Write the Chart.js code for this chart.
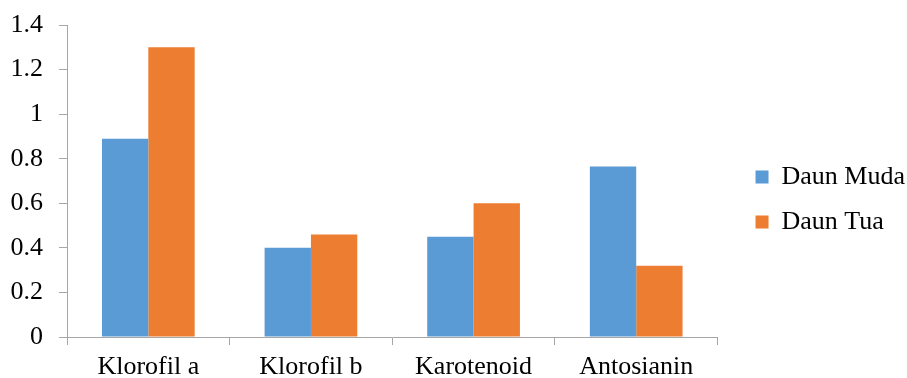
<!DOCTYPE html>
<html>
<head>
<meta charset="utf-8">
<script src="https://cdn.jsdelivr.net/npm/chart.js@4/dist/chart.umd.min.js"></script>
<style>
  html, body { margin: 0; padding: 0; background: #ffffff; }
  #wrap { width: 907px; height: 378px; position: relative; }
</style>
</head>
<body>
<div id="wrap"><canvas id="chart"></canvas></div>
<script>
// Pigment content of young vs old leaves
const categories = ['Klorofil a', 'Klorofil b', 'Karotenoid', 'Antosianin'];
const daunMuda = [0.89, 0.40, 0.45, 0.765];
const daunTua = [1.30, 0.46, 0.60, 0.32];
const yTickLabels = ['0', '0.2', '0.4', '0.6', '0.8', '1', '1.2', '1.4'];

const serif = "'Liberation Serif', 'Times New Roman', serif";
const axisGray = '#a6a6a6';

new Chart(document.getElementById('chart'), {
  type: 'bar',
  data: {
    labels: categories,
    datasets: [
      { label: 'Daun Muda', data: daunMuda, backgroundColor: '#5b9bd5', borderWidth: 0 },
      { label: 'Daun Tua', data: daunTua, backgroundColor: '#ed7d31', borderWidth: 0 }
    ]
  },
  options: {
    responsive: true,
    maintainAspectRatio: false,
    animation: false,
    datasets: { bar: { categoryPercentage: 0.57, barPercentage: 1.0 } },
    layout: { padding: { top: 25, left: 11, right: -8, bottom: 4 } },
    plugins: {
      legend: {
        position: 'right',
        maxWidth: 220,
        labels: {
          boxWidth: 13,
          boxHeight: 13,
          padding: 19,
          color: '#000000',
          font: { family: serif, size: 26 }
        }
      },
      tooltip: { enabled: false }
    },
    scales: {
      x: {
        grid: { display: true, drawOnChartArea: false, drawTicks: true, tickLength: 8, color: axisGray, offset: true },
        border: { display: true, color: axisGray, width: 1 },
        ticks: { color: '#000000', padding: 9, font: { family: serif, size: 26, lineHeight: 1.0 }, maxRotation: 0 },
        // category labels sit inside their bands, no overhang room needed
        afterFit: (scale) => { scale.paddingLeft = 0; scale.paddingRight = 0; scale.height = 37; }
      },
      y: {
        min: 0,
        max: 1.4,
        ticks: {
          stepSize: 0.2,
          padding: 16,
          color: '#000000',
          font: { family: serif, size: 26, lineHeight: 1.0 },
          callback: (v, i) => yTickLabels[i]
        },
        grid: { display: true, drawOnChartArea: false, drawTicks: true, tickLength: 8, color: axisGray },
        border: { display: true, color: axisGray, width: 1 },
        afterFit: (scale) => { scale.width = 56; scale.paddingTop = 0; scale.paddingBottom = 0; }
      },
      // empty spacer between the plot area and the legend
      gap: {
        type: 'linear',
        position: 'right',
        display: true,
        grid: { display: false },
        border: { display: false },
        ticks: { display: false },
        afterFit: (scale) => { scale.width = 19; }
      }
    }
  }
});
</script>
</body>
</html>
